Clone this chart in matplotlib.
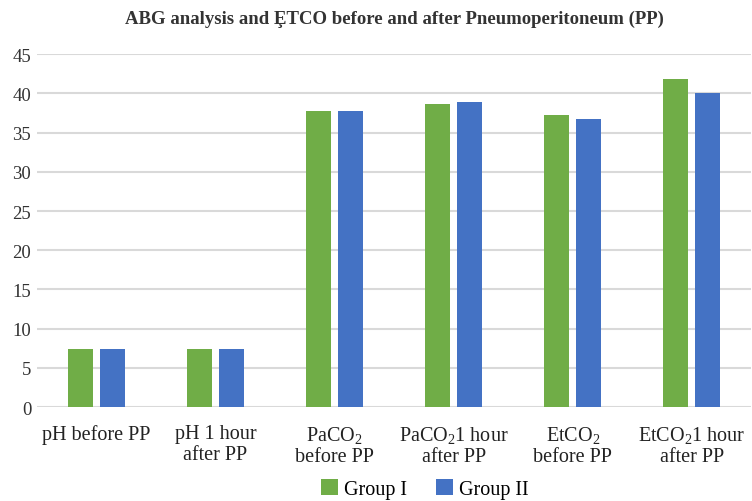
import matplotlib
matplotlib.use("Agg")
import matplotlib.pyplot as plt
import numpy as np

categories = ["pH before PP", "pH 1 hour\nafter PP", "PaCO$_2$\nbefore PP",
              "PaCO$_2$1 hour\nafter PP", "EtCO$_2$\nbefore PP", "EtCO$_2$1 hour\nafter PP"]
group1 = [7.4, 7.4, 37.8, 38.7, 37.2, 41.8]
group2 = [7.4, 7.4, 37.7, 38.9, 36.8, 40.0]
series_names = ["Group I", "Group II"]
yticks = [0, 5, 10, 15, 20, 25, 30, 35, 40, 45]

plt.rcParams['font.family'] = ['Liberation Serif', 'DejaVu Serif']
plt.rcParams['mathtext.fontset'] = 'custom'
plt.rcParams['mathtext.rm'] = 'Liberation Serif'
plt.rcParams['mathtext.it'] = 'Liberation Serif:italic'

fig = plt.figure(figsize=(7.52, 5.02), dpi=100)
ax = fig.add_axes([0.049, 0.187, 0.95, 0.703])

x = np.arange(len(categories))
w = 0.21
off = 0.135
ax.bar(x - off, group1, w, color="#70AD47", label=series_names[0], zorder=3)
ax.bar(x + off, group2, w, color="#4472C4", label=series_names[1], zorder=3)

ax.set_xlim(-0.5, len(categories) - 0.5)
ax.set_ylim(0, 45)
ax.set_yticks(yticks)
ax.yaxis.grid(True, color="#d9d9d9", linewidth=1.5, zorder=0)
for s in ax.spines.values():
    s.set_visible(False)
ax.tick_params(axis='y', length=0, labelsize=13.5, colors="#333333", pad=4)
ax.tick_params(axis='x', length=0, labelsize=14.5, colors="#222222", pad=12)
ax.set_xticks(x)
ax.set_xticklabels(categories, linespacing=1.15)

fig.text(0.524, 0.962, "ABG analysis and ȨTCO before and after Pneumoperitoneum (PP)",
         ha='center', va='center', fontsize=13.5, fontweight='bold', color="#333333")

leg = fig.legend(loc='center', bbox_to_anchor=(0.565, 0.024), ncol=2, frameon=False,
                 fontsize=14.5, handlelength=0.85, handleheight=0.85, handletextpad=0.3,
                 columnspacing=1.4)

fig.savefig("out.png", dpi=100)
